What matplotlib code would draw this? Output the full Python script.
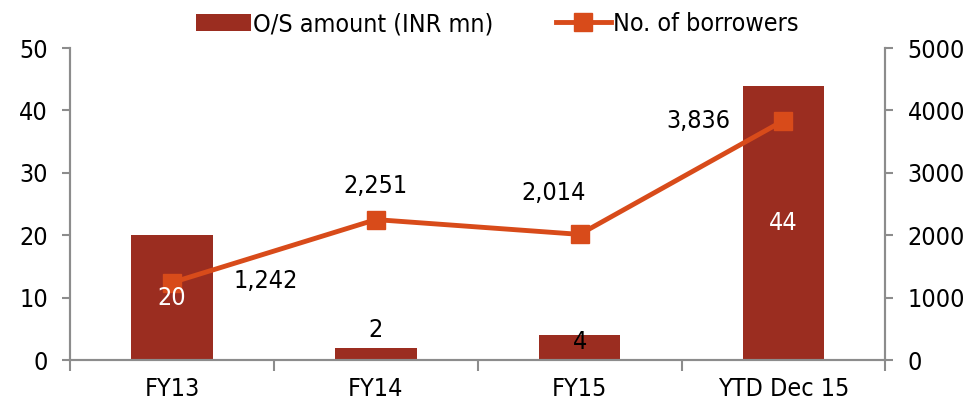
import numpy as np
import matplotlib.pyplot as plt

categories = ["FY13", "FY14", "FY15", "YTD Dec 15"]
amount = [20, 2, 4, 44]
borrowers = [1242, 2251, 2014, 3836]

plt.rcParams['font.family'] = ["DejaVu Sans"]
plt.rcParams['font.stretch'] = "condensed"
plt.rcParams['font.size'] = 18

bar_col = "#9B2D20"
line_col = "#D84B1A"
grey = "#8C8C8C"

fig = plt.figure(figsize=(9.75, 4.11), dpi=100)
ax = fig.add_axes([0.072, 0.124, 0.836, 0.759])
ax2 = ax.twinx()

x = np.arange(len(categories))
ax.bar(x, amount, width=0.4, color=bar_col, label="O/S amount (INR mn)", zorder=2)
ax2.plot(x, borrowers, color=line_col, lw=3.5, marker="s", ms=13,
         label="No. of borrowers", zorder=3)

ax.set_xlim(-0.5, 3.5)
ax.set_ylim(0, 50)
ax2.set_ylim(0, 5000)
ax.set_yticks(range(0, 51, 10))
ax2.set_yticks(range(0, 5001, 1000))
ax.set_xticks(x)
ax.set_xticklabels(categories)
ax.set_xticks(np.arange(-0.5, 4, 1), minor=True)
ax.tick_params(axis="x", which="major", length=0, pad=12)
ax.tick_params(axis="x", which="minor", length=8, color=grey, width=1.5)
ax.tick_params(axis="y", length=6, color=grey, width=1.5, pad=10)
ax2.tick_params(axis="y", length=6, color=grey, width=1.5, pad=10)

for a in (ax, ax2):
    for s in a.spines.values():
        s.set_color(grey)
        s.set_linewidth(1.5)
    a.spines["top"].set_visible(False)

# bar labels
ax2.text(x[0], 1000, "20", color="white", ha="center", va="center", zorder=5)
ax.text(x[1], 4.8, "2", color="black", ha="center", va="center")
ax.text(x[2], 2.9, "4", color="black", ha="center", va="center", zorder=5)
ax.text(x[3], 22, "44", color="white", ha="center", va="center")

# line labels
offs = [(0.46, 20), (0, 537), (-0.13, 660), (-0.42, 0)]
for i, v in enumerate(borrowers):
    dx, dy = offs[i]
    ax2.text(x[i] + dx, v + dy, f"{v:,}", ha="center", va="center", color="black", zorder=5)

h1, l1 = ax.get_legend_handles_labels()
h2, l2 = ax2.get_legend_handles_labels()
fig.legend(h1 + h2, l1 + l2, loc="upper center", bbox_to_anchor=(0.51, 1.025), ncol=2,
           frameon=False, handlelength=2.2, handletextpad=0.1, columnspacing=2.5)

fig.savefig("out.png", dpi=100)
